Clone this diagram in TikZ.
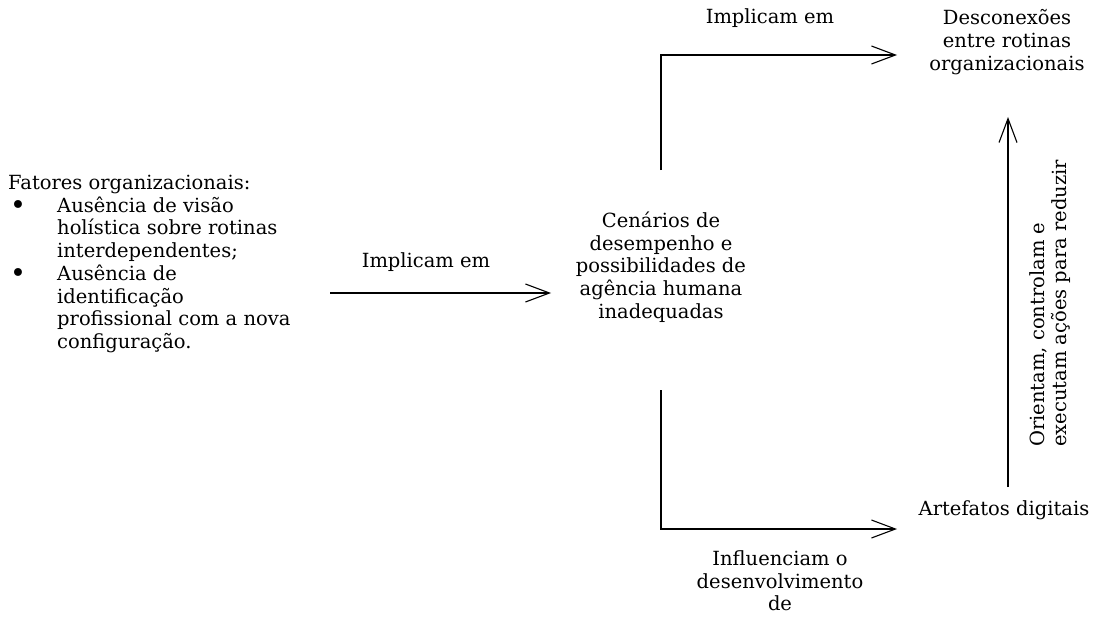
\documentclass[tikz,border=0pt]{standalone}
\usepackage{fontspec}
\setmainfont{DejaVu Serif}
\usetikzlibrary{arrows.meta}
\tikzset{
    every node/.style={inner sep=0mm, font=\fontsize{19.5}{22.7}\selectfont},
    seta/.style={line width=1.1pt, -{Straight Barb[length=24pt, width=18pt, line width=1.1pt]}}
}
\newcommand{\marca}{\makebox[49pt][l]{\hspace{2pt}\raisebox{-2pt}{\fontsize{27}{22.7}\selectfont\textbullet}}}
\newcommand{\recuo}{\hspace*{49pt}}

\begin{document}
\begin{tikzpicture}[x=1pt, y=1pt]
        \useasboundingbox (0,0) rectangle (1099,-623);
        \node (fatores) [anchor=west, align=left] at (8,-264) {Fatores organizacionais:\\
                \marca Ausência de visão\\ \recuo holística sobre rotinas\\ \recuo interdependentes;\\
                \marca Ausência de\\ \recuo identificação\\ \recuo profissional com a nova\\ \recuo configuração.};
        \node (cenarios) [align=center] at (661,-267) {Cenários de\\ desempenho e\\ possibilidades de\\ agência humana\\ inadequadas};
        \node (desconexoes) [align=center] at (1007,-42) {Desconexões\\ entre rotinas\\ organizacionais};
        \node (artefatos) at (1004,-510) {Artefatos digitais};
        \node (implica1) at (426,-262) {Implicam em};
        \node (implica2) at (770,-18) {Implicam em};
        \node (influencia) [align=center] at (780,-581) {Influenciam o\\ desenvolvimento\\ de};
        \node (orientam) [align=left, rotate=90, anchor=west] at (1050,-447) {Orientam, controlam e\\ executam ações para reduzir};
        % pontos dos conectores
        \coordinate (c1) at (330,-293);
        \coordinate (c2) at (551,-293);
        \coordinate (c3) at (661,-170);
        \coordinate (c4) at (661,-55);
        \coordinate (c5) at (897,-55);
        \coordinate (c6) at (661,-390);
        \coordinate (c7) at (661,-529);
        \coordinate (c8) at (897,-529);
        \coordinate (c9) at (1008,-487);
        \coordinate (c10) at (1008,-117);
        \draw[seta] (c1) -- (c2);
        \draw[seta] (c3) -- (c4) -- (c5);
        \draw[seta] (c6) -- (c7) -- (c8);
        \draw[seta] (c9) -- (c10);
\end{tikzpicture}
\end{document}
